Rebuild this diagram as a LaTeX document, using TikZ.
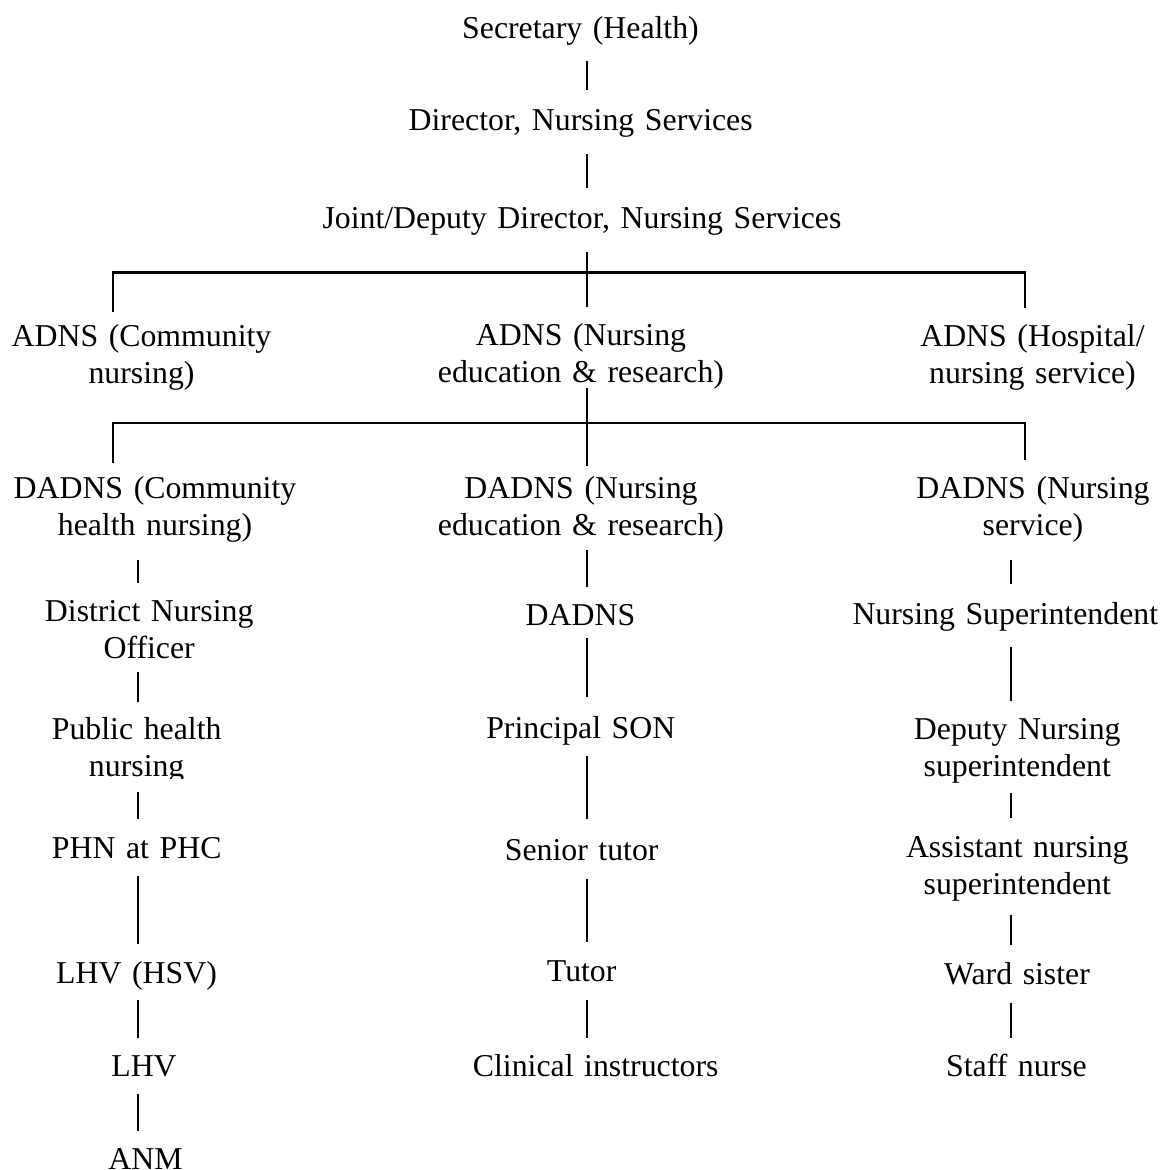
\documentclass[tikz,border=0pt]{standalone}
\usepackage{fontspec}
\setmainfont{Liberation Serif}
\usetikzlibrary{calc}
\begin{document}
\begin{tikzpicture}[x=1pt,y=-1pt,
  post/.style={anchor=base, inner sep=0pt, outer sep=0pt, text width=560pt,
    align=center, font=\fontsize{31.8}{37}\selectfont},
  link/.style={line width=1.8pt, black},
  bar/.style={line width=2.1pt, black}]
\useasboundingbox (0,0) rectangle (1162,1170);

% spines of the three columns and the branch ends
\coordinate (spM) at (587.3,0);
\coordinate (spC) at (138.3,0);
\coordinate (spS) at (1011.3,0);
\coordinate (spL) at (113.3,0);
\coordinate (spR) at (1024.7,0);

% top of the hierarchy
\node[post] (sec) at (580.5,38.3) {Secretary (Health)};
\node[post] (dir) at (580.7,130) {Director, Nursing Services};
\node[post] (jdd) at (582,228.3) {Joint/Deputy Director, Nursing Services};

% assistant directors
\node[post] (adnsC) at (141.5,346) {ADNS (Community\\nursing)};
\node[post] (adnsN) at (581,345) {ADNS (Nursing\\education \& research)};
\node[post] (adnsH) at (1032.5,346) {ADNS (Hospital/\\nursing service)};

% deputy assistant directors
\node[post] (dadnsC) at (155,498.3) {DADNS (Community\\health nursing)};
\node[post] (dadnsN) at (581,498.3) {DADNS (Nursing\\education \& research)};
\node[post] (dadnsS) at (1033,498.3) {DADNS (Nursing\\service)};

% community column
\node[post] (dno) at (149.2,621.7) {District Nursing\\Officer};
\begin{scope}
  \clip (0,700) rectangle (300,778);
  \node[post] (phn) at (136.7,739) {Public health\\nursing};
\end{scope}
\node[post] (phc) at (136.7,858.5) {PHN at PHC};
\node[post] (lhvh) at (136.5,983.3) {LHV (HSV)};
\node[post] (lhv) at (144,1076.7) {LHV};
\node[post] (anm) at (145.5,1169.5) {ANM};

% education column
\node[post] (dadns) at (580.5,625.7) {DADNS};
\node[post] (pson) at (580.8,738.3) {Principal SON};
\node[post] (st) at (581.7,860) {Senior tutor};
\node[post] (tutor) at (581.7,981.7) {Tutor};
\node[post] (ci) at (595.7,1076.7) {Clinical instructors};

% hospital column
\node[post] (nsup) at (1005.3,624) {Nursing Superintendent};
\node[post] (dns) at (1017.3,739) {Deputy Nursing\\superintendent};
\node[post] (ans) at (1017.3,857.5) {Assistant nursing\\superintendent};
\node[post] (ws) at (1017,984) {Ward sister};
\node[post] (sn) at (1016.5,1076.7) {Staff nurse};

% central chain
\draw[link] ($(sec.base -| spM)+(0,22.7)$) -- ($(dir.base -| spM)+(0,-40)$);
\draw[link] ($(dir.base -| spM)+(0,24)$) -- ($(jdd.base -| spM)+(0,-40)$);
\draw[link] ($(jdd.base -| spM)+(0,24)$) -- ($(adnsN.base -| spM)+(0,-38.3)$);
\draw[link] ($(adnsN.base -| spM)+(0,43)$) -- ($(dadnsN.base -| spM)+(0,-32.3)$);

% first branching bar
\draw[bar] ($(adnsC.base -| spL)+(0,-34.3)$) |- ($(jdd.base -| spM)+(0,44.2)$)
  -| ($(adnsH.base -| spR)+(0,-37.7)$);
% second branching bar
\draw[bar] ($(dadnsC.base -| spL)+(0,-35)$) |- ($(adnsN.base -| spM)+(0,78.3)$)
  -| ($(dadnsS.base -| spR)+(0,-38.3)$);

% community column links
\draw[link] ($(dadnsC.base -| spC)+(0,61.7)$) -- ($(dno.base -| spC)+(0,-38.4)$);
\draw[link] ($(dno.base -| spC)+(0,50)$) -- ($(phn.base -| spC)+(0,-37.3)$);
\draw[link] ($(phn.base -| spC)+(0,52.7)$) -- ($(phc.base -| spC)+(0,-39.2)$);
\draw[link] ($(phc.base -| spC)+(0,17.5)$) -- ($(lhvh.base -| spC)+(0,-39)$);
\draw[link] ($(lhvh.base -| spC)+(0,16.7)$) -- ($(lhv.base -| spC)+(0,-38.4)$);
\draw[link] ($(lhv.base -| spC)+(0,17.3)$) -- ($(anm.base -| spC)+(0,-38.8)$);

% education column links
\draw[link] ($(dadnsN.base -| spM)+(0,51.7)$) -- ($(dadns.base -| spM)+(0,-39)$);
\draw[link] ($(dadns.base -| spM)+(0,12.6)$) -- ($(pson.base -| spM)+(0,-41)$);
\draw[link] ($(pson.base -| spM)+(0,17.7)$) -- ($(st.base -| spM)+(0,-40.7)$);
\draw[link] ($(st.base -| spM)+(0,19)$) -- ($(tutor.base -| spM)+(0,-40)$);
\draw[link] ($(tutor.base -| spM)+(0,18.3)$) -- ($(ci.base -| spM)+(0,-39)$);

% hospital column links
\draw[link] ($(dadnsS.base -| spS)+(0,61.7)$) -- ($(nsup.base -| spS)+(0,-39.7)$);
\draw[link] ($(nsup.base -| spS)+(0,23.3)$) -- ($(dns.base -| spS)+(0,-38.3)$);
\draw[link] ($(dns.base -| spS)+(0,54)$) -- ($(ans.base -| spS)+(0,-39.2)$);
\draw[link] ($(ans.base -| spS)+(0,57.5)$) -- ($(ws.base -| spS)+(0,-39)$);
\draw[link] ($(ws.base -| spS)+(0,19.3)$) -- ($(sn.base -| spS)+(0,-38.4)$);
\end{tikzpicture}
\end{document}
